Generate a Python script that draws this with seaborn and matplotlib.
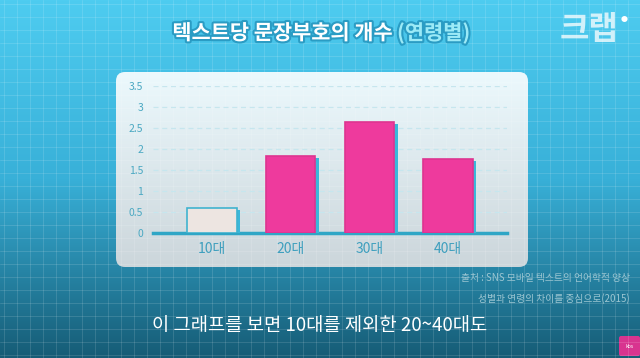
import numpy as np
import matplotlib
matplotlib.use('Agg')
import matplotlib.pyplot as plt
import matplotlib.patheffects as pe
from matplotlib.patches import FancyBboxPatch
import seaborn as sns

ages = ['10대', '20대', '30대', '40대']
counts = [0.6, 1.83, 2.63, 1.75]
bar_colors = ['#EDE5E1', '#EE3A9D', '#EE3A9D', '#EE3A9D']
edge_colors = ['#3FB3CF', '#DE3490', '#DE3490', '#DE3490']
yticks = [0, 0.5, 1, 1.5, 2, 2.5, 3, 3.5]
ytick_labels = ['0', '0.5', '1', '1.5', '2', '2.5', '3', '3.5']

sns.set_theme(style='white')
plt.rcParams['font.family'] = ['Noto Sans CJK KR', 'DejaVu Sans']

W, H = 640, 358
fig = plt.figure(figsize=(6.4, 3.58), dpi=100)

# background: blue grid with gradient
bg = fig.add_axes([0, 0, 1, 1])
top = np.array([78, 204, 240]) / 255
mid = np.array([56, 176, 216]) / 255
bot = np.array([22, 92, 118]) / 255
t = np.linspace(0, 1, 200)[:, None]
grad = np.where(t < 0.5, top + (mid - top) * (t / 0.5), mid + (bot - mid) * ((t - 0.5) / 0.5))
bg.imshow(grad[:, None, :].repeat(2, axis=1), extent=(0, W, H, 0), aspect='auto')
for gx in np.arange(4, W, 13):
    bg.axvline(gx, color='white', lw=0.6, alpha=0.15)
for gy in np.arange(4, H, 13):
    bg.axhline(gy, color='white', lw=0.6, alpha=0.15)
bg.set_xlim(0, W)
bg.set_ylim(H, 0)
bg.axis('off')

# white card behind chart
card = FancyBboxPatch((116, 72), 412, 195, boxstyle='round,pad=0,rounding_size=9',
                      fc='none', ec='none')
bg.add_patch(card)
cg = np.linspace(0, 1, 100)[:, None]
ctop = np.array([236, 249, 253]) / 255
cbot = np.array([204, 214, 219]) / 255
cimg = ctop + (cbot - ctop) * cg
im = bg.imshow(cimg[:, None, :].repeat(2, axis=1), extent=(116, 528, 267, 72), aspect='auto')
im.set_clip_path(card)
bg.set_xlim(0, W)
bg.set_ylim(H, 0)

# title
title_fx = [pe.withStroke(linewidth=3, foreground='#2A9CC4')]
fig.text(397 / W, 1 - 33 / H, '텍스트당 문장부호의 개수 ', ha='right', va='center',
         fontsize=15, fontweight='bold', color='white', path_effects=title_fx)
fig.text(397 / W, 1 - 33 / H, '(연령별)', ha='left', va='center',
         fontsize=15, fontweight='bold', color='#9BEAF7', path_effects=title_fx)

# logo
fig.text(618 / W, 1 - 30 / H, '크랩', ha='right', va='center', fontsize=23,
         fontweight='bold', color='white', alpha=0.75, style='italic')
fig.text(628 / W, 1 - 20 / H, '●', ha='right', va='center', fontsize=5, color='white')

# chart
ax = fig.add_axes([153 / W, 1 - 232.7 / H, (507 - 153) / W, (232.7 - 85.7) / H])
ax.patch.set_alpha(0)
sns.barplot(x=ages, y=counts, hue=ages, palette=bar_colors, legend=False, saturation=1,
            width=0.63, linewidth=1.2, ax=ax, zorder=3)
shadow = [pe.SimplePatchShadow(offset=(2.5, -1.5), shadow_rgbFace='#3BB7DA', alpha=1), pe.Normal()]
for p, ec in zip(ax.patches, edge_colors):
    p.set_edgecolor(ec)
    p.set_path_effects(shadow)
ax.set_xlim(-0.75, 3.75)
ax.set_ylim(0, 3.5)
ax.set_yticks(yticks)
ax.set_yticklabels(ytick_labels)
for y in yticks[1:]:
    ax.axhline(y, color='#C6E6EE', lw=0.9, ls=(0, (4, 3)), zorder=1)
for s in ['top', 'right', 'left']:
    ax.spines[s].set_visible(False)
ax.spines['bottom'].set_color('#2FA6C6')
ax.spines['bottom'].set_linewidth(2.5)
ax.tick_params(axis='y', length=0, labelsize=7.5, labelcolor='#4AA8C2', pad=7)
ax.tick_params(axis='x', length=0, labelsize=10, labelcolor='#3E9FBE', pad=7)
ax.set_xlabel('')
ax.set_ylabel('')

# source note
fig.text(630 / W, 1 - 278 / H, '출처 : SNS 모바일 텍스트의 언어학적 양상', ha='right', va='center',
         fontsize=7, color='#9CC6D2')
fig.text(630 / W, 1 - 299 / H, '성별과 연령의 차이를 중심으로(2015)', ha='right', va='center',
         fontsize=7, color='#9CC6D2')

# caption
fig.text(0.5, 1 - 326 / H, '이 그래프를 보면 10대를 제외한 20~40대도', ha='center', va='center',
         fontsize=13.5, color='white', fontweight='medium')

# small pink badge
bg.add_patch(FancyBboxPatch((619, 336), 21, 20, boxstyle='round,pad=0,rounding_size=2',
                            fc='#D8348F', ec='none'))
fig.text(629.5 / W, 1 - 346 / H, 'kbs', ha='center', va='center', fontsize=3.5, color='white')

fig.savefig('out.png', dpi=100)
